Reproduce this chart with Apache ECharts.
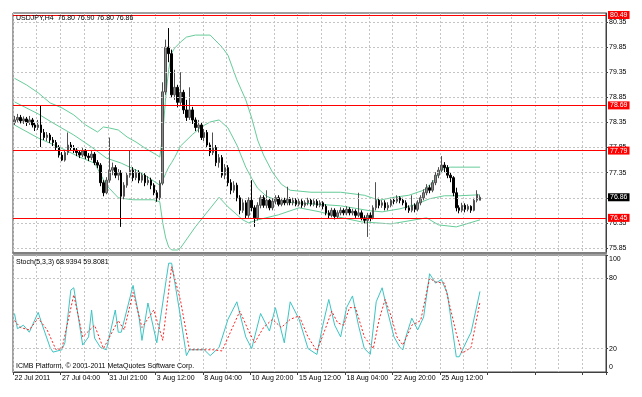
<!DOCTYPE html>
<html><head><meta charset="utf-8">
<script src="https://cdn.jsdelivr.net/npm/echarts@6/dist/echarts.min.js"></script>
<style>html,body{margin:0;padding:0;background:#fff}#c{width:642px;height:397px}</style>
</head><body><div id="c"></div><script>
const dateLabels = ['22 Jul 2011','27 Jul 04:00','31 Jul 21:00','3 Aug 12:00','8 Aug 04:00','10 Aug 20:00','15 Aug 12:00','18 Aug 04:00','22 Aug 20:00','25 Aug 12:00'];
const labelStep = 16;
const slotCount = 200;
// [open, close, low, high]
const candles = [
[78.35,78.40,78.30,78.48],[78.40,78.45,78.36,78.52],[78.45,78.38,78.33,78.50],[78.38,78.42,78.32,78.47],[78.42,78.35,78.28,78.46],
[78.35,78.40,78.30,78.48],[78.40,78.30,78.25,78.44],[78.30,78.25,78.18,78.35],[78.25,78.30,78.20,78.40],[78.30,78.15,77.86,78.68],
[78.15,78.05,78.00,78.22],[78.05,78.10,77.98,78.16],[78.10,78.00,77.94,78.14],[78.00,77.95,77.88,78.06],[77.95,77.85,77.80,78.00],
[77.85,77.70,77.65,77.90],[77.70,77.60,77.58,77.76],[77.60,77.75,77.57,77.80],[77.75,77.90,77.70,78.15],[77.90,77.85,77.78,77.96],
[77.85,77.80,77.74,77.90],[77.80,77.75,77.68,77.84],[77.75,77.70,77.64,77.80],[77.70,77.78,77.66,77.84],[77.78,77.68,77.62,77.82],
[77.68,77.65,77.58,77.74],[77.65,77.72,77.60,77.78],[77.72,77.55,77.50,77.76],[77.55,77.50,77.44,77.60],[77.50,77.15,77.08,77.54],
[77.15,76.95,76.88,77.20],[76.95,77.20,76.92,77.26],[77.20,77.40,77.15,78.05],[77.40,77.45,77.30,77.55],[77.45,77.30,77.24,77.50],
[77.30,77.35,77.20,77.42],[77.35,76.88,76.27,77.40],[76.88,77.10,76.82,77.16],[77.10,77.30,77.05,77.36],[77.30,77.40,77.25,77.80],
[77.40,77.25,77.18,77.46],[77.25,77.35,77.20,77.42],[77.35,77.20,77.14,77.40],[77.20,77.30,77.15,77.36],[77.30,77.15,77.08,77.34],
[77.15,77.20,77.10,77.28],[77.20,77.10,77.02,77.25],[77.10,76.95,76.90,77.14],[76.95,76.85,76.77,77.00],[76.85,77.14,76.80,77.20],
[77.14,78.96,77.10,79.15],[78.96,79.85,78.90,80.00],[79.85,79.72,79.55,80.23],[79.72,78.90,78.85,79.80],[78.90,79.05,78.80,79.40],
[79.05,78.75,78.65,79.10],[78.75,78.95,78.70,79.35],[78.95,78.60,78.52,79.00],[78.60,78.45,78.38,78.80],[78.45,78.60,78.40,79.05],
[78.60,78.40,78.32,78.66],[78.40,78.25,78.18,78.45],[78.25,78.30,78.15,78.40],[78.30,78.05,78.00,78.35],[78.05,78.15,77.98,78.22],
[78.15,77.90,77.84,78.20],[77.90,77.75,77.68,77.95],[77.75,77.85,77.70,78.15],[77.85,77.55,77.48,77.90],[77.55,77.65,77.45,77.72],
[77.65,77.30,77.25,77.70],[77.30,77.45,77.22,77.52],[77.45,77.15,77.08,77.50],[77.15,77.00,76.92,77.22],[77.00,77.10,76.95,77.18],
[77.10,76.85,76.78,77.15],[76.85,76.60,76.52,76.90],[76.60,76.75,76.55,76.82],[76.75,76.50,76.44,76.80],[76.50,76.80,76.45,76.86],
[76.80,76.65,76.58,77.20],[76.65,76.45,76.27,76.70],[76.45,76.70,76.40,76.76],[76.70,76.85,76.64,76.90],[76.85,76.70,76.65,76.90],
[76.70,76.80,76.64,77.00],[76.80,76.65,76.60,76.85],[76.65,76.78,76.60,76.84],[76.78,76.85,76.72,76.90],[76.85,76.72,76.68,76.90],
[76.72,76.80,76.68,76.85],[76.80,76.75,76.70,76.85],[76.75,76.82,76.70,77.07],[76.82,76.75,76.70,76.86],[76.75,76.80,76.70,76.85],
[76.80,76.72,76.68,76.84],[76.72,76.78,76.68,76.83],[76.78,76.70,76.65,76.82],[76.70,76.75,76.66,76.80],[76.75,76.80,76.70,76.85],
[76.80,76.72,76.68,76.84],[76.72,76.78,76.68,76.82],[76.78,76.70,76.65,76.82],[76.70,76.75,76.66,76.80],[76.75,76.68,76.62,76.78],
[76.68,76.55,76.50,76.72],[76.55,76.50,76.44,76.60],[76.50,76.60,76.46,76.65],[76.60,76.48,76.42,76.64],[76.48,76.55,76.44,76.60],
[76.55,76.60,76.50,76.66],[76.60,76.55,76.50,76.64],[76.55,76.62,76.50,76.68],[76.62,76.55,76.50,76.66],[76.55,76.58,76.50,76.63],
[76.58,76.50,76.45,76.62],[76.50,76.55,76.46,76.95],[76.55,76.45,76.40,76.60],[76.45,76.40,76.34,76.50],[76.40,76.50,76.07,76.55],
[76.50,76.45,76.38,76.56],[76.45,76.65,76.42,76.70],[76.65,76.80,76.60,77.16],[76.80,76.70,76.64,76.85],[76.70,76.75,76.65,76.80],
[76.75,76.65,76.60,76.80],[76.65,76.70,76.60,76.76],[76.70,76.80,76.66,76.85],[76.80,76.78,76.72,76.85],[76.78,76.85,76.74,76.90],
[76.85,76.80,76.74,76.88],[76.80,76.75,76.70,76.85],[76.75,76.65,76.60,76.80],[76.65,76.60,76.55,76.70],[76.60,76.70,76.56,76.90],
[76.70,76.62,76.56,76.74],[76.62,76.75,76.58,76.80],[76.75,76.85,76.70,76.90],[76.85,76.95,76.80,77.02],[76.95,77.05,76.90,77.12],
[77.05,77.00,76.94,77.10],[77.00,77.15,76.96,77.20],[77.15,77.30,77.10,77.36],[77.30,77.40,77.24,77.46],[77.40,77.50,77.34,77.68],
[77.50,77.45,77.36,77.56],[77.45,77.30,77.24,77.50],[77.30,77.25,77.16,77.36],[77.25,76.95,76.88,77.28],[76.95,76.65,76.58,77.05],
[76.65,76.60,76.54,76.70],[76.60,76.70,76.56,76.75],[76.70,76.62,76.56,76.74],[76.62,76.68,76.58,76.72],[76.68,76.60,76.55,76.70],
[76.60,76.80,76.58,76.85],[76.80,76.92,76.76,77.00],[76.80,76.86,76.80,76.90]
];
// Bollinger bands read at sampled bars: [barIndex, price]
const upperBand = [[0,79.23],[4,79.10],[8,78.94],[12,78.74],[16,78.64],[20,78.50],[24,78.30],[28,78.16],[30,78.26],[32,78.24],[35,78.20],[38,78.06],[41,77.96],[44,77.84],[48,77.70],[49,77.66],[50,78.10],[51,78.85],[52,79.40],[53,79.73],[54,79.83],[56,79.95],[58,80.05],[61,80.09],[66,80.09],[70,79.85],[72,79.69],[75,79.20],[78,78.80],[80,78.44],[82,78.00],[84,77.70],[87,77.36],[90,77.12],[93,77.00],[100,76.96],[110,76.96],[118,76.90],[123,76.80],[128,76.86],[133,76.90],[138,77.00],[141,77.16],[143,77.32],[145,77.44],[147,77.46],[157,77.46]];
const middleBand = [[0,78.76],[8,78.52],[13,78.34],[20,78.10],[26,77.86],[31,77.64],[36,77.54],[41,77.40],[45,77.26],[49,77.10],[50,77.20],[51,77.33],[52,77.46],[53,77.55],[54,77.65],[56,77.88],[60,78.11],[63,78.26],[66,78.36],[69,78.40],[72,78.24],[75,77.90],[78,77.46],[80,77.24],[82,77.04],[85,76.88],[90,76.77],[100,76.73],[110,76.69],[116,76.63],[120,76.59],[124,76.57],[130,76.63],[135,76.71],[140,76.83],[145,76.89],[150,76.89],[157,76.91]];
const lowerBand = [[0,78.30],[8,78.04],[15,77.86],[22,77.66],[27,77.54],[31,77.10],[35,76.85],[40,76.81],[47,76.81],[49,76.77],[50,76.35],[51,76.05],[52,75.87],[53,75.81],[55,75.81],[56,75.85],[61,76.27],[69,76.86],[72,76.67],[77,76.41],[79,76.35],[82,76.41],[89,76.51],[96,76.65],[103,76.57],[109,76.47],[117,76.37],[127,76.33],[139,76.45],[143,76.31],[149,76.27],[157,76.41]];
// Stochastic (5,3,3): [barIndex, value]
const stochK = [[0,50],[1,37],[3,40],[5,34],[8,51],[9,43],[12,21],[13,17],[16,19],[17,25],[19,70],[20,72],[23,23],[25,30],[26,53],[27,29],[29,21],[31,19],[34,53],[35,34],[36,34],[40,74],[42,47],[43,27],[45,59],[48,25],[52,93],[53,93],[56,47],[58,14],[59,19],[64,19],[66,14],[69,21],[72,45],[75,60],[78,30],[80,20],[83,50],[86,35],[88,55],[91,25],[93,60],[96,45],[99,20],[102,15],[104,40],[106,62],[108,40],[110,30],[112,55],[114,65],[116,40],[118,20],[120,15],[122,60],[124,72],[126,50],[128,30],[130,21],[131,19],[132,30],[134,46],[136,36],[138,47],[140,84],[141,80],[142,76],[144,79],[146,67],[149,13],[150,13],[153,29],[154,34],[157,68.94]];
const stochD = [[0,44],[2,38],[5,36],[8,46],[11,36],[14,19],[16,20],[20,66],[23,30],[27,40],[30,20],[35,44],[37,36],[40,68],[43,38],[47,53],[50,27],[53,90],[56,61],[59,19],[63,19],[67,19],[70,18],[73,35],[76,52],[79,35],[81,25],[84,38],[87,45],[90,38],[93,45],[96,48],[99,30],[102,18],[105,38],[107,52],[109,42],[111,40],[113,55],[115,55],[118,30],[121,20],[123,45],[125,62],[127,48],[129,30],[131,23],[134,40],[137,44],[140,80],[142,77],[145,76],[149,33],[151,16],[154,21],[157,59.81]];
const priceTicks = [75.85,76.35,76.85,77.35,77.85,78.35,78.85,79.35,79.85,80.35];
const levelLines = [80.49,78.69,77.79,76.45];
const lastPrice = 76.86;
const stochTicks = [0,20,80,100];
const stochLevels = [20,80];
const headerText = 'USDJPY,H4  76.80 76.90 76.80 76.86';
const stochText = 'Stoch(5,3,3) 68.9394 59.8081';
const footerText = 'ICMB Platform, \u00A9 2001-2011 MetaQuotes Software Corp.';

const FONT = 'Liberation Sans';
const FS = 7;
const RED = '#ff0000';
const cats = Array.from({length: slotCount}, (_, i) => String(i));
const gridDash = {color: '#c4c4c4', type: [2, 2], width: 1};
const boxLabel = (txt, bg) => ({show: true, position: 'end', distance: 2, formatter: txt, backgroundColor: bg, color: '#fff', fontSize: FS, padding: [1, 2, 0, 2], fontFamily: FONT, opacity: 1});
const textTitle = (text, left, top) => ({text, left, top, padding: 0, textStyle: {fontSize: FS, fontWeight: 'normal', color: '#000', fontFamily: FONT}});

const chart = echarts.init(document.getElementById('c'), null, {renderer: 'canvas'});
chart.setOption({
  animation: false,
  backgroundColor: '#ffffff',
  textStyle: {fontFamily: FONT},
  title: [
    textTitle(headerText, 16, 15),
    textTitle(stochText, 16, 259),
    textTitle(footerText, 16, 363)
  ],
  grid: [
    {left: 13, top: 13, width: 593, height: 240, show: true, borderColor: '#404040', borderWidth: 1, backgroundColor: 'transparent'},
    {left: 13, top: 255, width: 593, height: 117, show: true, borderColor: '#404040', borderWidth: 1, backgroundColor: 'transparent'}
  ],
  xAxis: [
    {type: 'category', gridIndex: 0, data: cats, boundaryGap: true,
     axisLine: {show: true, lineStyle: {color: '#808080', width: 2}}, axisTick: {show: false}, axisLabel: {show: false},
     splitLine: {show: true, interval: 7, lineStyle: gridDash}},
    {type: 'category', gridIndex: 1, data: cats, boundaryGap: true,
     axisLine: {show: true, lineStyle: {color: '#404040', width: 1}},
     axisTick: {show: true, interval: labelStep - 1, length: 3, lineStyle: {color: '#404040'}},
     axisLabel: {interval: labelStep - 1, align: 'left', margin: 3, fontSize: FS, color: '#000', fontFamily: FONT,
       formatter: (v, i) => (i % labelStep === 0 && dateLabels[i / labelStep]) ? dateLabels[i / labelStep] : ''},
     splitLine: {show: true, interval: 7, lineStyle: gridDash}}
  ],
  yAxis: [
    {type: 'value', gridIndex: 0, position: 'right', min: 75.75, max: 80.53,
     axisLine: {show: true, lineStyle: {color: '#404040'}},
     axisTick: {show: true, customValues: priceTicks, length: 2, lineStyle: {color: '#404040'}},
     axisLabel: {customValues: priceTicks, formatter: v => v.toFixed(2), fontSize: FS, color: '#000', margin: 3, fontFamily: FONT},
     splitLine: {show: false}},
    {type: 'value', gridIndex: 1, position: 'right', min: 0, max: 100,
     axisLine: {show: true, lineStyle: {color: '#404040'}},
     axisTick: {show: true, customValues: stochTicks, length: 2, lineStyle: {color: '#404040'}},
     axisLabel: {customValues: stochTicks, fontSize: FS, color: '#000', margin: 3, fontFamily: FONT,
       formatter: v => v === 100 ? '{t|100}' : (v === 0 ? '{b|0}' : String(v)),
       rich: {t: {fontSize: FS, padding: [9, 0, 0, 0], fontFamily: FONT}, b: {fontSize: FS, padding: [0, 0, 9, 0], fontFamily: FONT}}},
     splitLine: {show: false}}
  ],
  series: [
    {type: 'line', xAxisIndex: 0, yAxisIndex: 0, data: [], z: 1, silent: true,
     markLine: {silent: true, symbol: ['none', 'none'], animation: false, label: {show: false},
       lineStyle: gridDash, data: priceTicks.map(v => ({yAxis: v}))}},
    {type: 'line', xAxisIndex: 1, yAxisIndex: 1, data: [], z: 1, silent: true,
     markLine: {silent: true, symbol: ['none', 'none'], animation: false, label: {show: false},
       lineStyle: gridDash, data: stochLevels.map(v => ({yAxis: v}))}},
    {type: 'candlestick', xAxisIndex: 0, yAxisIndex: 0, data: candles, barWidth: 2, z: 3,
     itemStyle: {color: '#8a8a8a', color0: '#000000', borderColor: '#505050', borderColor0: '#000000', borderWidth: 1}},
    {type: 'line', xAxisIndex: 0, yAxisIndex: 0, data: upperBand, showSymbol: false, z: 2, lineStyle: {color: '#66cc99', width: 1}},
    {type: 'line', xAxisIndex: 0, yAxisIndex: 0, data: middleBand, showSymbol: false, z: 2, lineStyle: {color: '#66cc99', width: 1}},
    {type: 'line', xAxisIndex: 0, yAxisIndex: 0, data: lowerBand, showSymbol: false, z: 2, lineStyle: {color: '#66cc99', width: 1}},
    {type: 'line', xAxisIndex: 0, yAxisIndex: 0, data: [], z: 5, silent: true, color: RED, itemStyle: {color: RED},
     markLine: {silent: true, symbol: ['none', 'none'], animation: false,
       itemStyle: {color: RED},
       lineStyle: {color: RED, type: 'solid', width: 1},
       data: levelLines.map(v => ({yAxis: v, lineStyle: {color: RED, type: 'solid', width: 1}, label: boxLabel(v.toFixed(2), RED)}))}},
    {type: 'line', xAxisIndex: 0, yAxisIndex: 0, data: [], z: 5, silent: true,
     markLine: {silent: true, symbol: ['none', 'none'], animation: false,
       lineStyle: {color: 'rgba(0,0,0,0)', width: 1},
       data: [{yAxis: lastPrice, label: boxLabel(lastPrice.toFixed(2), '#000000')}]}},
    {type: 'line', xAxisIndex: 1, yAxisIndex: 1, data: stochK, showSymbol: false, z: 3, lineStyle: {color: '#3cc4c4', width: 1}},
    {type: 'line', xAxisIndex: 1, yAxisIndex: 1, data: stochD, showSymbol: false, z: 4, lineStyle: {color: '#ff2020', width: 1, type: [2, 2]}}
  ]
});
</script></body></html>
